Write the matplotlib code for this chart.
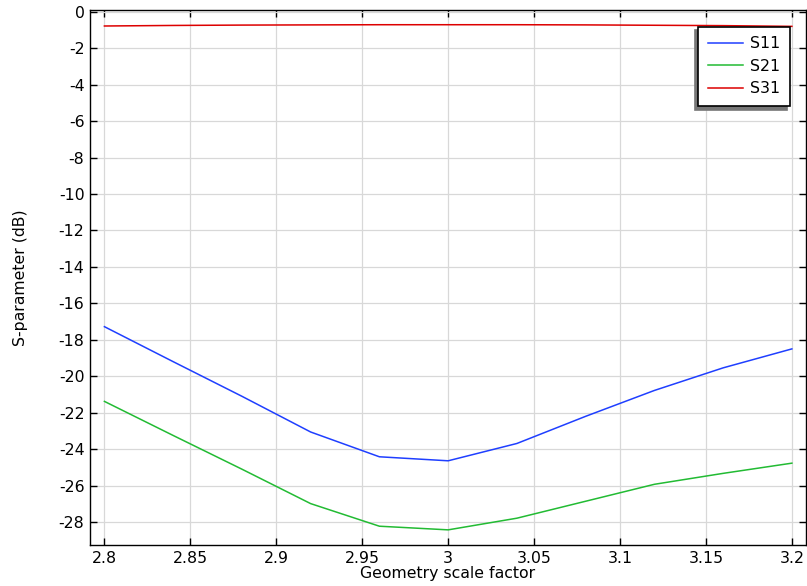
import matplotlib
matplotlib.use("Agg")
import matplotlib.pyplot as plt

scale = [2.80, 2.84, 2.88, 2.92, 2.96, 3.00, 3.04, 3.08, 3.12, 3.16, 3.20]
s11 = [-17.28, -19.2, -21.1, -23.06, -24.42, -24.64, -23.69, -22.2, -20.78, -19.54, -18.5]
s21 = [-21.38, -23.25, -25.1, -26.99, -28.23, -28.43, -27.79, -26.86, -25.93, -25.33, -24.77]
s31 = [-0.78, -0.75, -0.73, -0.72, -0.71, -0.71, -0.71, -0.72, -0.74, -0.76, -0.80]

xticks = [2.8, 2.85, 2.9, 2.95, 3.0, 3.05, 3.1, 3.15, 3.2]
xticklabels = ["2.8", "2.85", "2.9", "2.95", "3", "3.05", "3.1", "3.15", "3.2"]
yticks = list(range(0, -30, -2))

plt.rcParams['font.family'] = ['DejaVu Sans']
fs = 11.3
fig = plt.figure(figsize=(8.07, 5.86), dpi=100)
ax = fig.add_axes([0.1115, 0.07, 0.887, 0.913])

ax.plot(scale, s11, color='#1f3fff', lw=1.1, label='S11')
ax.plot(scale, s21, color='#22bb33', lw=1.1, label='S21')
ax.plot(scale, s31, color='#dd0000', lw=1.1, label='S31')

ax.set_xlim(2.7916, 3.2081)
ax.set_ylim(-29.26, 0.1)
ax.set_xticks(xticks)
ax.set_xticklabels(xticklabels)
ax.set_yticks(yticks)
ax.set_yticklabels([str(v) for v in yticks])
ax.grid(True, color='#d8d8d8', lw=0.9)
ax.set_axisbelow(True)
ax.tick_params(direction='in', length=5, width=1, top=True, right=True,
               labelsize=fs, colors='black', pad=4)
for sp in ax.spines.values():
    sp.set_linewidth(1.0)
ax.set_xlabel('Geometry scale factor', fontsize=fs, labelpad=0)
ax.set_ylabel('S-parameter (dB)', fontsize=fs, labelpad=22)

leg = ax.legend(loc='upper right', bbox_to_anchor=(0.9777, 0.969), fancybox=False,
                shadow={'color': '#777777', 'alpha': 1.0, 'ox': -2.2, 'oy': -2.8},
                framealpha=1, edgecolor='black', fontsize=fs, handlelength=2.23,
                handletextpad=0.45, borderpad=0.62, labelspacing=0.47,
                borderaxespad=0)
leg.get_frame().set_linewidth(1.2)

fig.savefig('out.png', dpi=100)
